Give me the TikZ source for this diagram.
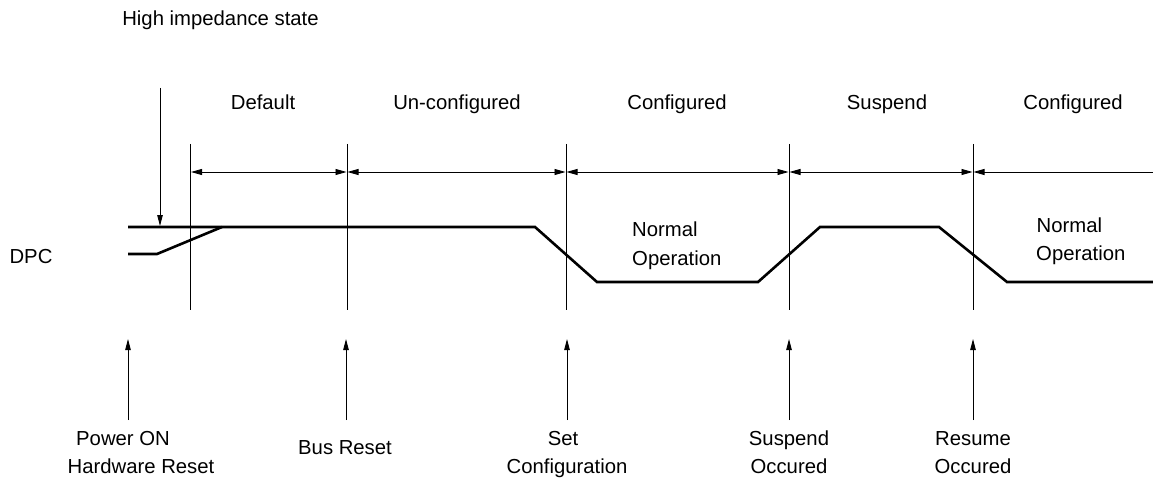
\documentclass[tikz,border=0pt]{standalone}
\usepackage{fontspec}
\setmainfont{Liberation Sans}
\usetikzlibrary{arrows.meta}
\begin{document}
\begin{tikzpicture}[x=1pt,y=-1pt,
  lbl/.style={inner sep=0pt,anchor=base,font=\fontsize{20.3pt}{29pt}\selectfont},
  lbll/.style={lbl,anchor=base west},
  sig/.style={line width=2.6pt,line join=miter},
  guide/.style={line width=0.8pt},
  dimtip/.tip={Triangle[length=11pt,width=6pt]},
  dimline/.style={line width=0.8pt},
  ev/.style={line width=0.9pt,-{Triangle[length=11pt,width=5.5pt]}}]
\useasboundingbox (0,0) rectangle (1153,481);

% guide (state boundary) lines
\foreach \i/\x in {1/190.5,2/347,3/566,4/789,5/973}{
  \coordinate (t\i) at (\x,144);
  \coordinate (b\i) at (\x,310);
  \coordinate (d\i) at (\x,172);
}
\coordinate (dend) at (1153,172);
\foreach \i in {1,...,5}{ \draw[guide] (t\i) -- (b\i); }

% dimension arrows
\draw[dimline,dimtip-dimtip] ([xshift=0.5pt]d1) -- ([xshift=-0.5pt]d2);
\draw[dimline,dimtip-dimtip] ([xshift=0.5pt]d2) -- ([xshift=-0.5pt]d3);
\draw[dimline,dimtip-dimtip] ([xshift=0.5pt]d3) -- ([xshift=-0.5pt]d4);
\draw[dimline,dimtip-dimtip] ([xshift=0.5pt]d4) -- ([xshift=-0.5pt]d5);
\draw[dimline,dimtip-] ([xshift=0.5pt]d5) -- (dend);

% state labels
\node[lbl] (sDef) at (263,110) {Default};
\node[lbl] (sUnc) at (457,110) {Un-configured};
\node[lbl] (sCf1) at (677,110) {Configured};
\node[lbl] (sSus) at (887,110) {Suspend};
\node[lbl] (sCf2) at (1073,110) {Configured};

% high impedance
\node[lbl] (hiz) at (220.5,26) {High impedance state};
\coordinate (hizS) at (160,88);
\coordinate (hizT) at (160,226);
\draw[ev] (hizS) -- (hizT);

% DPC signal
\node[lbl] (dpc) at (31,263) {DPC};
\coordinate (p0) at (128,227);
\coordinate (p1) at (535,227);
\coordinate (p2) at (597,282);
\coordinate (p3) at (758,282);
\coordinate (p4) at (820,227);
\coordinate (p5) at (939,227);
\coordinate (p6) at (1007,282);
\coordinate (p7) at (1153,282);
\draw[sig] (p0) -- (p1) -- (p2) -- (p3) -- (p4) -- (p5) -- (p6) -- (p7);
\coordinate (q0) at (128,254);
\coordinate (q1) at (157,254);
\coordinate (q2) at (222,227);
\draw[sig] (q0) -- (q1) -- (q2);

% Normal Operation labels
\node[lbll] (no1a) at (632,236) {Normal};
\node[lbll] (no1b) at (632,265) {Operation};
\node[lbll] (no2a) at (1036.5,232) {Normal};
\node[lbll] (no2b) at (1036,260) {Operation};

% event arrows
\foreach \i/\x in {1/128,2/346,3/567,4/789,5/973}{
  \coordinate (es\i) at (\x,420);
  \coordinate (et\i) at (\x,339);
  \draw[ev] (es\i) -- (et\i);
}

% event labels
\node[lbl] (e1a) at (123,445) {Power ON};
\node[lbl] (e1b) at (141,473) {Hardware Reset};
\node[lbl] (e2) at (345,454) {Bus Reset};
\node[lbl] (e3a) at (563,445) {Set};
\node[lbl] (e3b) at (567,473) {Configuration};
\node[lbl] (e4a) at (789,445) {Suspend};
\node[lbl] (e4b) at (789,473) {Occured};
\node[lbl] (e5a) at (973,445) {Resume};
\node[lbl] (e5b) at (973,473) {Occured};
\end{tikzpicture}
\end{document}
